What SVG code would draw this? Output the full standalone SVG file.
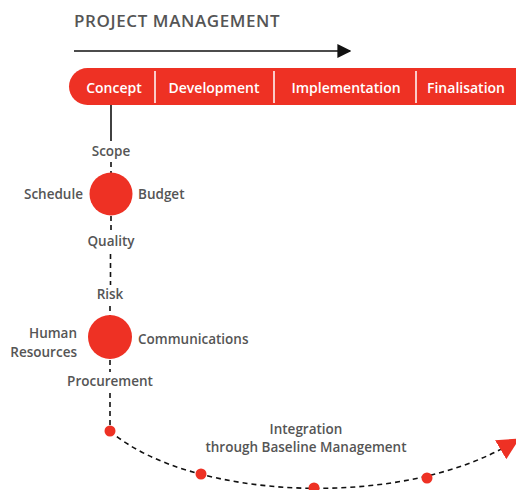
<svg xmlns="http://www.w3.org/2000/svg" width="516" height="490" viewBox="0 0 516 490">
<style>
.lbl{font-family:"Open Sans","Noto Sans",sans-serif;font-weight:600;font-size:13.5px;fill:#555}
.ph{font-family:"Open Sans","Noto Sans",sans-serif;font-weight:600;font-size:14px;fill:#fff;text-anchor:middle}
.red{fill:#ee3124}
.dash{fill:none;stroke:#111;stroke-width:1.6;stroke-dasharray:5 4}
</style>
<defs>
<marker id="blk" viewBox="0 0 10 10" refX="9" refY="5" markerWidth="14" markerHeight="14" markerUnits="userSpaceOnUse" orient="auto"><path d="M0,0L10,5L0,10z" fill="#111"/></marker>
<marker id="redarr" viewBox="0 0 10 10" refX="6" refY="5" markerWidth="22" markerHeight="22" markerUnits="userSpaceOnUse" orient="auto"><path d="M0,0L10,5L0,10z" fill="#ee3124"/></marker>
</defs>
<g id="title">
<text x="74" y="27" style="font-family:'Open Sans','Noto Sans',sans-serif;font-weight:600;font-size:17px;fill:#555;letter-spacing:0.6px">PROJECT MANAGEMENT</text>
</g>
<g id="connectors">
<line x1="74" y1="51" x2="350" y2="51" stroke="#111" stroke-width="1.6" marker-end="url(#blk)"/>
<line x1="111" y1="105" x2="111" y2="141" stroke="#111" stroke-width="1.6"/>
<line x1="111" y1="162" x2="111" y2="173" class="dash"/>
<line x1="111" y1="216" x2="111" y2="232" class="dash"/>
<line x1="110.5" y1="254" x2="110.5" y2="285" class="dash"/>
<line x1="110" y1="306" x2="110" y2="316" class="dash"/>
<line x1="110" y1="360" x2="110" y2="372" class="dash"/>
<line x1="110" y1="393" x2="110" y2="431" class="dash"/>
<path d="M110,431 C190,500 400,510 512,443" class="dash" marker-end="url(#redarr)"/>
</g>
<g id="phases">
<rect x="69" y="68" width="470" height="37" rx="18.5" class="red"/>
<g stroke="#fff" stroke-width="1.5">
<line x1="155" y1="71" x2="155" y2="103"/>
<line x1="274" y1="71" x2="274" y2="103"/>
<line x1="416" y1="71" x2="416" y2="103"/>
</g>
<text x="114" y="93" class="ph">Concept</text>
<text x="214" y="93" class="ph">Development</text>
<text x="346" y="93" class="ph">Implementation</text>
<text x="466" y="93" class="ph">Finalisation</text>
</g>
<g id="node1">
<circle cx="111" cy="194" r="21.5" class="red"/>
<text x="111" y="156" class="lbl" text-anchor="middle">Scope</text>
<text x="83" y="199" class="lbl" text-anchor="end">Schedule</text>
<text x="138" y="199" class="lbl">Budget</text>
<text x="111" y="246" class="lbl" text-anchor="middle">Quality</text>
</g>
<g id="node2">
<circle cx="110" cy="337" r="22" class="red"/>
<text x="110" y="299" class="lbl" text-anchor="middle">Risk</text>
<text x="77" y="338" class="lbl" text-anchor="end">Human</text>
<text x="77" y="357" class="lbl" text-anchor="end">Resources</text>
<text x="138" y="344" class="lbl">Communications</text>
<text x="110" y="386" class="lbl" text-anchor="middle">Procurement</text>
</g>
<g id="integration">
<circle cx="110" cy="431" r="5.5" class="red"/>
<circle cx="201" cy="474" r="5.5" class="red"/>
<circle cx="314" cy="488" r="5.5" class="red"/>
<circle cx="427" cy="478" r="5.5" class="red"/>
<text x="306" y="434" class="lbl" text-anchor="middle">Integration</text>
<text x="306" y="452" class="lbl" text-anchor="middle">through Baseline Management</text>
</g>
</svg>
